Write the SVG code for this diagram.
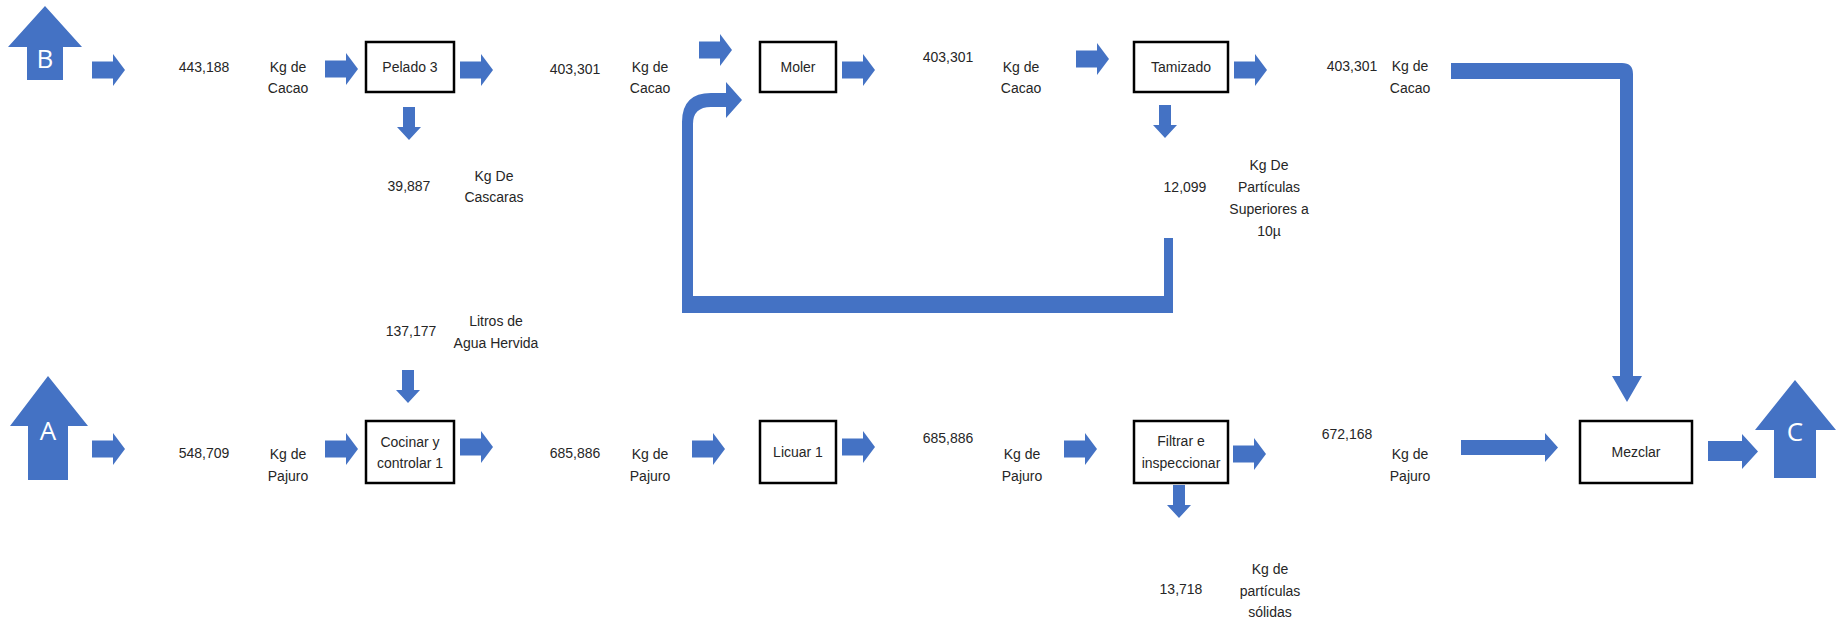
<svg xmlns="http://www.w3.org/2000/svg" xmlns:xlink="http://www.w3.org/1999/xlink" width="1842" height="628" viewBox="0 0 1842 628">
<style>
  .t { font-family: "Liberation Sans", Arial, sans-serif; font-size: 14px; fill: #262626; text-anchor: middle; }
  .box { fill: #ffffff; stroke: #000000; stroke-width: 2.5; }
  .blue { fill: #4472C4; }
  .big { font-family: "Open Sans", "Liberation Sans", sans-serif; font-size: 26px; fill: #ffffff; text-anchor: middle; }
</style>
<defs>
  <path id="ra" d="M0,-8.5 H21 V-16 L33,0 L21,16 V8.5 H0 Z" fill="#4472C4"/>
  <path id="da" d="M-6,0 H6 V20 H12 L0,33 L-12,20 H-6 Z" fill="#4472C4"/>
</defs>
<rect width="1842" height="628" fill="#ffffff"/>

<!-- Start/end block arrows -->
<g id="node-B">
  <path class="blue" d="M45,6 L82,47 H63 V80 H27 V47 H8 Z"/>
  <text class="big" x="45" y="68">B</text>
</g>
<g id="node-A">
  <path class="blue" d="M48,376 L88,426 H68 V480 H28 V426 H10 Z"/>
  <text class="big" x="48" y="440">A</text>
</g>
<g id="node-C">
  <path class="blue" d="M1795,380 L1836,430 H1816 V478 H1774 V430 H1755 Z"/>
  <text class="big" x="1795" y="441">C</text>
</g>

<!-- Process boxes -->
<g id="node-pelado">
  <rect class="box" x="366" y="42" width="88" height="50"/>
  <text class="t" x="410" y="72">Pelado 3</text>
</g>
<g id="node-moler">
  <rect class="box" x="760" y="42" width="76" height="50"/>
  <text class="t" x="798" y="72">Moler</text>
</g>
<g id="node-tamizado">
  <rect class="box" x="1134" y="42" width="94" height="50"/>
  <text class="t" x="1181" y="72">Tamizado</text>
</g>
<g id="node-cocinar">
  <rect class="box" x="366" y="421" width="88" height="62"/>
  <text class="t" x="410" y="447">Cocinar y</text>
  <text class="t" x="410" y="468">controlar 1</text>
</g>
<g id="node-licuar">
  <rect class="box" x="760" y="421" width="76" height="62"/>
  <text class="t" x="798" y="457">Licuar 1</text>
</g>
<g id="node-filtrar">
  <rect class="box" x="1134" y="421" width="94" height="62"/>
  <text class="t" x="1181" y="446">Filtrar e</text>
  <text class="t" x="1181" y="468">inspeccionar</text>
</g>
<g id="node-mezclar">
  <rect class="box" x="1580" y="421" width="112" height="62"/>
  <text class="t" x="1636" y="457">Mezclar</text>
</g>

<!-- Connectors -->
<g id="connectors">
  <!-- top row -->
  <use href="#ra" x="92" y="70"/>
  <use href="#ra" x="325" y="69"/>
  <use href="#ra" x="460" y="70"/>
  <use href="#ra" x="699" y="50"/>
  <use href="#ra" x="842" y="70"/>
  <use href="#ra" x="1076" y="59"/>
  <use href="#ra" x="1234" y="70"/>
  <use href="#da" x="409" y="107"/>
  <use href="#da" x="1165" y="105"/>
  <!-- bottom row -->
  <use href="#ra" x="92" y="449"/>
  <use href="#ra" x="325" y="449"/>
  <use href="#ra" x="460" y="447"/>
  <use href="#ra" x="692" y="449"/>
  <use href="#ra" x="842" y="447"/>
  <use href="#ra" x="1064" y="449"/>
  <use href="#ra" x="1233" y="454"/>
  <use href="#da" x="408" y="370"/>
  <use href="#da" x="1179" y="485"/>
  <!-- into / out of Mezclar -->
  <path class="blue" d="M1461,440 H1545 V433 L1558,447.5 L1545,462 V455 H1461 Z"/>
  <path class="blue" d="M1708,441 H1742 V434 L1758,451.5 L1742,469 V461 H1708 Z"/>
  <!-- recycle loop from Tamizado back to Moler -->
  <path class="blue" d="M1164,238 H1173 V313 H682 V122 Q682,93 711,93 H726 V82 L742,100 L726,118 V107 H711 Q693,107 693,124 V296 H1164 Z"/>
  <!-- elbow from cacao line down to Mezclar -->
  <path class="blue" d="M1451,63 H1622 Q1633,63 1633,74 V376 H1642 L1627,402 L1612,376 H1620 V79 H1451 Z"/>
</g>

<!-- Flow labels -->
<g id="labels">
  <text class="t" x="204" y="72">443,188</text>
  <text class="t" x="288" y="72">Kg de</text>
  <text class="t" x="288" y="93">Cacao</text>
  <text class="t" x="409" y="191">39,887</text>
  <text class="t" x="494" y="181">Kg De</text>
  <text class="t" x="494" y="202">Cascaras</text>
  <text class="t" x="575" y="74">403,301</text>
  <text class="t" x="650" y="72">Kg de</text>
  <text class="t" x="650" y="93">Cacao</text>
  <text class="t" x="948" y="62">403,301</text>
  <text class="t" x="1021" y="72">Kg de</text>
  <text class="t" x="1021" y="93">Cacao</text>
  <text class="t" x="1185" y="192">12,099</text>
  <text class="t" x="1269" y="170">Kg De</text>
  <text class="t" x="1269" y="192">Partículas</text>
  <text class="t" x="1269" y="214">Superiores a</text>
  <text class="t" x="1269" y="236">10µ</text>
  <text class="t" x="1352" y="71">403,301</text>
  <text class="t" x="1410" y="71">Kg de</text>
  <text class="t" x="1410" y="93">Cacao</text>

  <text class="t" x="411" y="336">137,177</text>
  <text class="t" x="496" y="326">Litros de</text>
  <text class="t" x="496" y="348">Agua Hervida</text>
  <text class="t" x="204" y="458">548,709</text>
  <text class="t" x="288" y="459">Kg de</text>
  <text class="t" x="288" y="481">Pajuro</text>
  <text class="t" x="575" y="458">685,886</text>
  <text class="t" x="650" y="459">Kg de</text>
  <text class="t" x="650" y="481">Pajuro</text>
  <text class="t" x="948" y="443">685,886</text>
  <text class="t" x="1022" y="459">Kg de</text>
  <text class="t" x="1022" y="481">Pajuro</text>
  <text class="t" x="1181" y="594">13,718</text>
  <text class="t" x="1270" y="574">Kg de</text>
  <text class="t" x="1270" y="596">partículas</text>
  <text class="t" x="1270" y="617">sólidas</text>
  <text class="t" x="1347" y="439">672,168</text>
  <text class="t" x="1410" y="459">Kg de</text>
  <text class="t" x="1410" y="481">Pajuro</text>
</g>
</svg>
